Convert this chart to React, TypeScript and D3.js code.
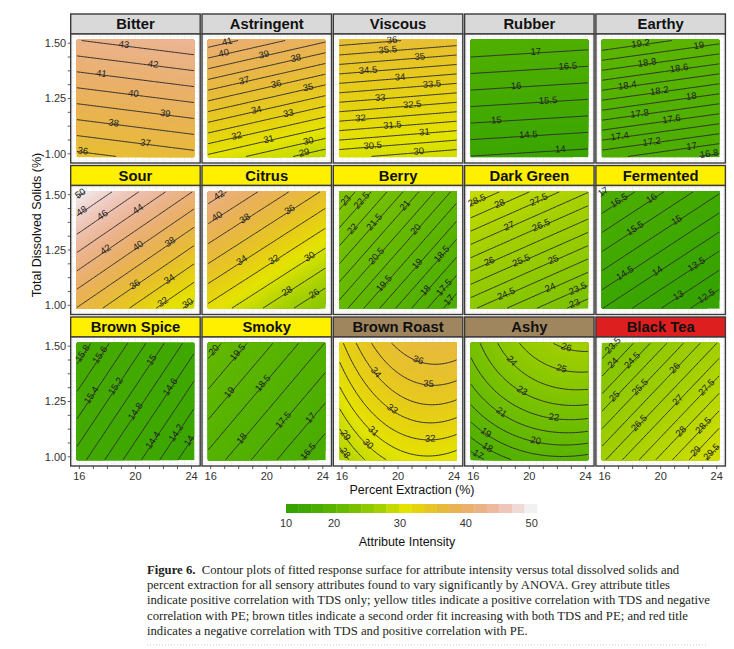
import React, { useMemo } from 'react';
import * as d3 from 'd3';

// ---------- data ----------
const attributes = ['Bitter', 'Astringent', 'Viscous', 'Rubber', 'Earthy', 'Sour', 'Citrus', 'Berry', 'Dark Green', 'Fermented', 'Brown Spice', 'Smoky', 'Brown Roast', 'Ashy', 'Black Tea'];
const titleGroup = ['grey', 'grey', 'grey', 'grey', 'grey', 'yellow', 'yellow', 'yellow', 'yellow', 'yellow', 'yellow', 'yellow', 'brown', 'brown', 'red'];

// fitted response surface, coded units: X = PE (-1..1 over peRange), Y = TDS (-1..1 over tdsRange)
const coefIntercept = [39.79, 34.975, 32.95, 15.635, 18.07, 39.9, 33.59, 20.04, 25.815, 14.535, 14.89, 18.16, 33.65, 22.675, 26.48];
const coefPE = [0.467, -1.25, -0.25, -0.11, -0.165, -4.4, -3.79, -1.85, -0.98, -1.01, -0.642, -1.143, 1.8, 1.535, 1.765];
const coefTDS = [3.68, 5.475, 3.1, 1.775, 1.175, 6.4, 5.88, 1.625, 2.205, 1.535, 0.427, 0.965, 2.95, 3.495, -1.675];
const coefPE2 = [0, 0, 0, 0, 0, 0, 0, 0, 0, 0, 0, 0, -1.55, -1.0, 0];
const coefTDS2 = [0, 0, 0, 0, 0, 0, 0, 0, 0, 0, 0, 0, -0.35, -0.8, 0];
const coefPExTDS = [0, 0, 0, 0, 0, 0, 0, 0, 0, 0, 0, 0, 0.25, 0.455, 0];
const contourStep = [1, 1, 0.5, 0.5, 0.2, 2, 2, 0.5, 0.5, 0.5, 0.2, 0.5, 1, 1, 0.5];

const peRange = [15.8, 24.2];
const tdsRange = [0.985, 1.515];
const xTicks = [16, 17, 18, 19, 20, 21, 22, 23, 24];
const xTickLabels = [16, 20, 24];
const yTicks = [1.0, 1.0625, 1.125, 1.1875, 1.25, 1.3125, 1.375, 1.4375, 1.5];
const yTickLabels = [1.0, 1.25, 1.5];
const legendTicks = [10, 20, 30, 40, 50];
const legendLimits = [12.7, 50.8];
const terrainColors = ['#36A300', '#3FA800', '#4BAD00', '#57B300', '#68BA00', '#79C100', '#8FC900', '#A5D000', '#C3DA00', '#E4E300', '#E6D30F', '#E7C524', '#E8BA3C', '#E9B353', '#EAB06C', '#EBB286', '#EDBAA0', '#EEC7BA', '#F0DAD6', '#F2F1F1'];
const titleColors: Record<string, string> = { grey: '#D9D9D9', yellow: '#FFF000', brown: '#A0865F', red: '#DD1F1F' };

const captionBold = 'Figure 6.';
const captionLines = [
  '  Contour plots of fitted response surface for attribute intensity versus total dissolved solids and',
  'percent extraction for all sensory attributes found to vary significantly by ANOVA. Grey attribute titles',
  'indicate positive correlation with TDS only; yellow titles indicate a positive correlation with TDS and negative',
  'correlation with PE; brown titles indicate a second order fit increasing with both TDS and PE; and red title',
  'indicates a negative correlation with TDS and positive correlation with PE.',
];

// ---------- layout ----------
const W = 734, H = 649;
const plotLeft = 70.7, colStep = 131.3, panelW = 129.5;
const rowTop = 14, rowStep = 151.5, stripH = 20, panelH = 129;
const N = 80;
const FONT = "'Liberation Sans', Arial, Helvetica, sans-serif";

const peMid = (peRange[0] + peRange[1]) / 2, peHalf = (peRange[1] - peRange[0]) / 2;
const tdsMid = (tdsRange[0] + tdsRange[1]) / 2, tdsHalf = (tdsRange[1] - tdsRange[0]) / 2;
const peExp = [peRange[0] - 0.1 * peHalf, peRange[1] + 0.1 * peHalf];
const tdsExp = [tdsRange[0] - 0.1 * tdsHalf, tdsRange[1] + 0.1 * tdsHalf];

const colorScale = d3.scaleLinear<string>()
  .domain(terrainColors.map((_, i) => legendLimits[0] + (i * (legendLimits[1] - legendLimits[0])) / (terrainColors.length - 1)))
  .range(terrainColors)
  .clamp(true);

function surface(k: number, pe: number, tds: number) {
  const X = (pe - peMid) / peHalf, Y = (tds - tdsMid) / tdsHalf;
  return coefIntercept[k] + coefPE[k] * X + coefTDS[k] * Y + coefPE2[k] * X * X + coefTDS2[k] * Y * Y + coefPExTDS[k] * X * Y;
}

function isoLines(mp: any) {
  const lines: number[][][] = [];
  const onB = (p: number[]) => p[0] <= 1e-9 || p[0] >= N - 1e-9 || p[1] <= 1e-9 || p[1] >= N - 1e-9;
  for (const poly of mp.coordinates) for (const ring0 of poly) {
    let ring = ring0 as number[][];
    if (ring.length > 1 && ring[0][0] === ring[ring.length - 1][0] && ring[0][1] === ring[ring.length - 1][1]) ring = ring.slice(0, -1);
    const n = ring.length;
    const b = ring.findIndex(onB);
    if (b < 0) { lines.push([...ring, ring[0]]); continue; }
    let cur: number[][] = [];
    for (let s = 1; s <= n; s++) {
      const p = ring[(b + s) % n];
      if (onB(p)) { if (cur.length >= 2) lines.push(cur); cur = []; }
      else cur.push(p);
    }
    if (cur.length >= 2) lines.push(cur);
  }
  return lines;
}

function fmt(v: number) { return String(+v.toFixed(3)); }

function buildPanel(k: number) {
  const col = k % 5, row = Math.floor(k / 5);
  const left = plotLeft + col * colStep;
  const stripTop = rowTop + row * rowStep;
  const top = stripTop + stripH;
  const xs = d3.scaleLinear().domain(peExp).range([left, left + panelW]);
  const ys = d3.scaleLinear().domain(tdsExp).range([top + panelH, top]);
  const values = new Array(N * N);
  for (let j = 0; j < N; j++) for (let i = 0; i < N; i++) {
    const pe = peRange[0] + ((i + 0.5) / N) * (peRange[1] - peRange[0]);
    const tds = tdsRange[1] - ((j + 0.5) / N) * (tdsRange[1] - tdsRange[0]);
    values[j * N + i] = surface(k, pe, tds);
  }
  const [zmin, zmax] = d3.extent(values) as [number, number];
  const gx = (c: number) => xs(peRange[0] + (c / N) * (peRange[1] - peRange[0]));
  const gy = (c: number) => ys(tdsRange[1] - (c / N) * (tdsRange[1] - tdsRange[0]));
  const path = d3.geoPath(d3.geoTransform({ point(this: any, x: number, y: number) { this.stream.point(gx(x), gy(y)); } }));
  const gen = d3.contours().size([N, N]);
  const fillStep = 0.2;
  const fillT = d3.range(Math.ceil(zmin / fillStep) * fillStep, zmax, fillStep);
  const bands = fillT.map((t) => ({ d: path(gen.contour(values, t) as any) || '', color: colorScale(t + fillStep / 2) }));
  const baseColor = colorScale(zmin);
  const step = contourStep[k];
  const levels = d3.range(Math.ceil(zmin / step - 1e-9) * step, zmax, step);
  const lineGen = d3.line();
  const lines: string[] = [];
  const labels: { x: number; y: number; a: number; t: string }[] = [];
  levels.forEach((lv, li) => {
    const mp = gen.contour(values, lv);
    const pls = isoLines(mp).map((pl) => pl.map((p) => [gx(p[0]), gy(p[1])] as [number, number]));
    pls.forEach((pl) => lines.push(lineGen(pl) || ''));
    if (!pls.length) return;
    const pl = pls.reduce((a, b) => (b.length > a.length ? b : a));
    const cum = [0];
    for (let s = 1; s < pl.length; s++) cum.push(cum[s - 1] + Math.hypot(pl[s][0] - pl[s - 1][0], pl[s][1] - pl[s - 1][1]));
    const total = cum[cum.length - 1];
    const at = (d: number) => {
      d = Math.max(0, Math.min(total, d));
      const s = d3.bisectLeft(cum, d);
      if (s <= 0) return pl[0];
      if (s >= pl.length) return pl[pl.length - 1];
      const r = (d - cum[s - 1]) / (cum[s] - cum[s - 1] || 1);
      return [pl[s - 1][0] + r * (pl[s][0] - pl[s - 1][0]), pl[s - 1][1] + r * (pl[s][1] - pl[s - 1][1])];
    };
    const f = total < 20 ? 0.5 : 0.14 + 0.72 * (((li * 0.618 + k * 0.29) % 1 + 1) % 1);
    const p = at(f * total);
    const pa = at(f * total - 4), pb = at(f * total + 4);
    let a = (Math.atan2(pb[1] - pa[1], pb[0] - pa[0]) * 180) / Math.PI;
    if (a > 90) a -= 180;
    if (a < -90) a += 180;
    labels.push({ x: p[0], y: p[1], a, t: fmt(lv) });
  });
  return { k, col, row, left, top, stripTop, xs, ys, bands, baseColor, lines, labels, fx0: gx(0), fx1: gx(N), fy0: gy(0), fy1: gy(N) };
}

export default function App() {
  const panels = useMemo(() => attributes.map((_, k) => buildPanel(k)), []);
  const gridX = d3.range(15.5, 24.51, 0.5);
  const gridY = d3.range(0.96875, 1.54, 0.03125);
  const legX = d3.scaleLinear().domain(legendLimits).range([286, 537]).clamp(true);
  const blockW = (537 - 286) / terrainColors.length;
  return (
    <svg width={W} height={H} viewBox={`0 0 ${W} ${H}`} style={{ position: 'absolute', left: 0, top: 0, background: '#fff' }} fontFamily={FONT}>
      <rect x={0} y={0} width={W} height={H} fill="#fff" />
      {panels.map((p) => (
        <g key={p.k}>
          <rect x={p.left} y={p.stripTop} width={panelW} height={stripH} fill={titleColors[titleGroup[p.k]]} stroke="#3a3a3a" strokeWidth={1.4} />
          <text x={p.left + panelW / 2} y={p.stripTop + 15.4} textAnchor="middle" fontSize={14.8} fontWeight="bold" fill="#111">{attributes[p.k]}</text>
          <rect x={p.left} y={p.top} width={panelW} height={panelH} fill="#fff" />
          {gridX.map((g) => <line key={'gx' + g} x1={p.xs(g)} x2={p.xs(g)} y1={p.top} y2={p.top + panelH} stroke="#EBEBEB" strokeWidth={0.6} />)}
          {gridY.map((g) => <line key={'gy' + g} x1={p.left} x2={p.left + panelW} y1={p.ys(g)} y2={p.ys(g)} stroke="#EBEBEB" strokeWidth={0.6} />)}
          <rect x={p.fx0} y={p.fy0} width={p.fx1 - p.fx0} height={p.fy1 - p.fy0} fill={p.baseColor} />
          {p.bands.map((b, i) => <path key={'b' + i} d={b.d} fill={b.color} fillRule="evenodd" stroke="none" />)}
          {p.lines.map((d, i) => <path key={'l' + i} d={d} fill="none" stroke="#303030" strokeWidth={1} strokeLinecap="round" />)}
          {p.labels.map((l, i) => (
            <text key={'t' + i} transform={`translate(${l.x},${l.y}) rotate(${l.a})`} y={-1.8} textAnchor="middle" dominantBaseline="central" fontSize={9.5} fill="#222">{l.t}</text>
          ))}
          <rect x={p.left} y={p.top} width={panelW} height={panelH} fill="none" stroke="#3a3a3a" strokeWidth={1.4} />
          {p.col === 0 && (
            <g>
              {yTicks.map((t) => <line key={'yt' + t} x1={p.left - 3} x2={p.left} y1={p.ys(t)} y2={p.ys(t)} stroke="#333" strokeWidth={0.8} />)}
              {yTickLabels.map((t) => <text key={'yl' + t} x={p.left - 4.5} y={p.ys(t)} dy="0.35em" textAnchor="end" fontSize={11} fill="#333">{t.toFixed(2)}</text>)}
            </g>
          )}
          {p.row === 2 && (
            <g>
              {xTicks.map((t) => <line key={'xt' + t} x1={p.xs(t)} x2={p.xs(t)} y1={p.top + panelH} y2={p.top + panelH + 3} stroke="#333" strokeWidth={0.8} />)}
              {xTickLabels.map((t) => <text key={'xl' + t} x={p.xs(t)} y={p.top + panelH + 14} textAnchor="middle" fontSize={11} fill="#333">{t}</text>)}
            </g>
          )}
        </g>
      ))}
      <text transform="translate(41,225) rotate(-90)" textAnchor="middle" fontSize={12.5} fill="#111">Total Dissolved Solids (%)</text>
      <text x={412} y={493.5} textAnchor="middle" fontSize={12.5} fill="#111">Percent Extraction (%)</text>
      {terrainColors.map((c, i) => <rect key={'lg' + i} x={286 + i * blockW} y={504} width={blockW + 0.3} height={9} fill={c} />)}
      {legendTicks.map((t) => <text key={'lt' + t} x={legX(t)} y={527} textAnchor="middle" fontSize={11} fill="#333">{t}</text>)}
      <text x={407} y={546} textAnchor="middle" fontSize={12.5} fill="#111">Attribute Intensity</text>
      <g fontFamily="'Liberation Serif', 'Times New Roman', serif" fontSize={12.7} fill="#231F20">
        {captionLines.map((line, i) => (
          <text key={'c' + i} x={147} y={574 + i * 15.2} xmlSpace="preserve" style={{ whiteSpace: 'pre' }}>
            {i === 0 && <tspan fontWeight="bold">{captionBold}</tspan>}
            {line}
          </text>
        ))}
      </g>
      <line x1={147} x2={706} y1={645} y2={645} stroke="#bdbdbd" strokeWidth={0.8} strokeDasharray="1 2" />
    </svg>
  );
}
